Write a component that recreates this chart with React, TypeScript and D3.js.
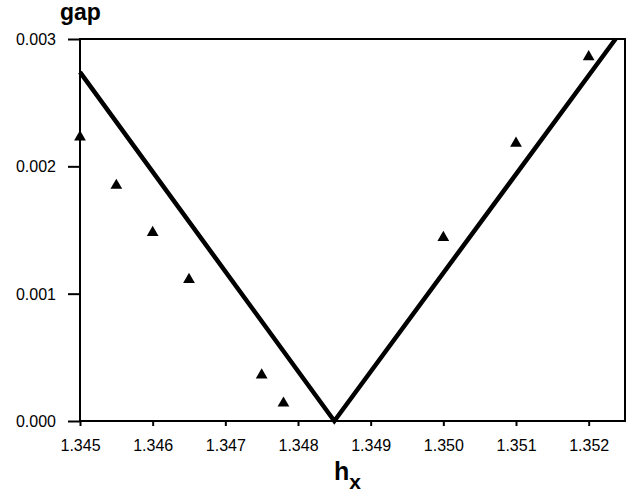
import React, { useEffect, useRef } from 'react';
import * as d3 from 'd3';

// measured points (triangles)
const hxPoints = [1.345, 1.3455, 1.346, 1.3465, 1.3475, 1.3478, 1.35, 1.351, 1.352];
const gapPoints = [0.00223, 0.00185, 0.00148, 0.00111, 0.00036, 0.00014, 0.00144, 0.00218, 0.00286];

// fitted V line
const hxLine = [1.345, 1.3485, 1.35237];
const gapLine = [0.00274, 0, 0.003];

const xTicks = [1.345, 1.346, 1.347, 1.348, 1.349, 1.35, 1.351, 1.352];
const yTicks = [0, 0.001, 0.002, 0.003];

export default function App() {
  const ref = useRef<SVGSVGElement>(null);

  useEffect(() => {
    const svg = d3.select(ref.current);
    svg.selectAll('*').remove();
    const width = 635, height = 499;
    const m = { top: 39, right: 10, bottom: 78, left: 80 };
    const font = 'Liberation Sans, Arial, sans-serif';

    const x = d3.scaleLinear().domain([1.345, 1.3525]).range([m.left, width - m.right]);
    const y = d3.scaleLinear().domain([0, 0.003]).range([height - m.bottom, m.top]);

    // frame
    svg.append('rect')
      .attr('x', x(1.345)).attr('y', y(0.003))
      .attr('width', x(1.3525) - x(1.345)).attr('height', y(0) - y(0.003))
      .attr('fill', 'none').attr('stroke', '#000').attr('stroke-width', 2);

    const xAxis = svg.append('g')
      .attr('transform', `translate(0,${y(0)})`)
      .call(d3.axisBottom(x).tickValues(xTicks).tickFormat(d3.format('.3f')).tickSize(5).tickPadding(14));
    const yAxis = svg.append('g')
      .attr('transform', `translate(${x(1.345)},0)`)
      .call(d3.axisLeft(y).tickValues(yTicks).tickFormat(d3.format('.3f')).tickSize(12).tickPadding(12));

    [xAxis, yAxis].forEach(g => {
      g.select('.domain').remove();
      g.attr('font-size', 16).attr('font-family', font);
      g.selectAll('line').attr('stroke', '#000').attr('stroke-width', 2);
      g.selectAll('text').attr('fill', '#000');
    });
    yAxis.selectAll('text').attr('dy', '0.35em');

    // V line
    const line = d3.line<number>().x((d, i) => x(hxLine[i])).y(d => y(d));
    svg.append('path').datum(gapLine)
      .attr('d', line).attr('fill', 'none').attr('stroke', '#000').attr('stroke-width', 4.5);

    // triangles
    const tri = d3.symbol().type(d3.symbolTriangle).size(60);
    svg.selectAll('.pt').data(gapPoints).enter().append('path')
      .attr('class', 'pt')
      .attr('d', tri)
      .attr('transform', (d, i) => `translate(${x(hxPoints[i])},${y(d)})`)
      .attr('fill', '#000');

    // axis titles
    svg.append('text').attr('x', 60).attr('y', 20)
      .style('font-family', font).style('font-weight', 'bold').style('font-size', '23px')
      .text('gap');

    const t = svg.append('text').attr('x', 334).attr('y', 480)
      .style('font-family', font).style('font-weight', 'bold').style('font-size', '25px');
    t.append('tspan').text('h');
    t.append('tspan').attr('dy', 9).style('font-size', '21px').text('x');
  }, []);

  return (
    <svg ref={ref} width={635} height={499}
      style={{ position: 'absolute', left: 0, top: 0, background: '#fff' }} />
  );
}
